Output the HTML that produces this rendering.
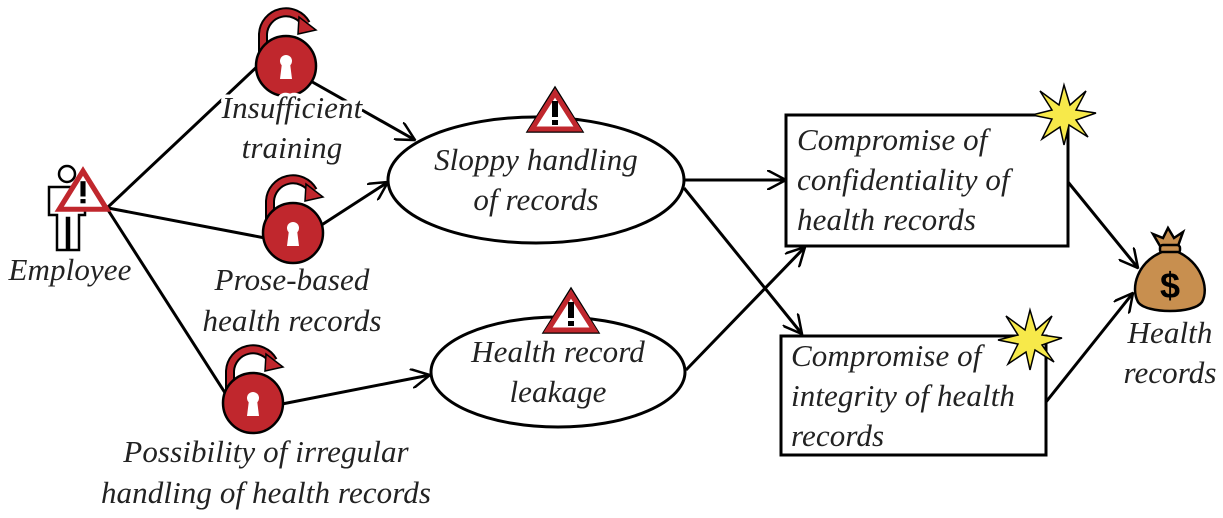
<!DOCTYPE html>
<html><head><style>
html,body{margin:0;padding:0;background:#fff;}
svg{display:block;}
text{font-family:"Liberation Serif",serif;font-style:italic;font-size:31px;letter-spacing:0.1px;fill:#222;}
.bg{stroke:#fff;stroke-width:7px;paint-order:stroke;}
</style></head><body>
<svg width="1223" height="518" viewBox="0 0 1223 518" xmlns="http://www.w3.org/2000/svg">
<defs>
<g id="lock">
  <path d="M-23,-8 L-23,-32 A23,23 0 0 1 20,-42" fill="none" stroke="#000" stroke-width="10"/>
  <path d="M-23,-8 L-23,-32 A23,23 0 0 1 20,-42" fill="none" stroke="#c0272d" stroke-width="6"/>
  <path d="M13,-49 L30,-36 L12,-32 Z" fill="#c0272d" stroke="#000" stroke-width="1.5"/>
  <circle cx="0" cy="0" r="30" fill="#c0272d" stroke="#000" stroke-width="2.5"/>
  <circle cx="0" cy="-5" r="6" fill="#fff"/>
  <path d="M-4,-3 L-6,13 L6,13 L4,-3 Z" fill="#fff"/>
</g>
<g id="warn">
  <path d="M0,0 L28,45 L-28,45 Z" fill="#fff" stroke="#000" stroke-width="1.5"/>
  <path d="M0,6 L23,42 L-23,42 Z" fill="none" stroke="#c0272d" stroke-width="5"/>
  <rect x="-3" y="14" width="6" height="16" fill="#000"/>
  <rect x="-3" y="33" width="6" height="5" fill="#000"/>
</g>
<g id="star">
  <polygon points="0,-30 6,-10 22,-24 12,-5 32,-2 12,5 24,22 5,10 0,30 -4,12 -22,24 -12,4 -32,0 -12,-5 -24,-24 -5,-10" fill="#f7e94a" stroke="#000" stroke-width="1.5"/>
</g>
<marker id="ar" viewBox="0 0 20 20" refX="19" refY="10" markerWidth="20" markerHeight="20" markerUnits="userSpaceOnUse" orient="auto">
  <path d="M0,0 L19,10 L0,20" fill="none" stroke="#000" stroke-width="2.5"/>
</marker>
</defs>

<g stroke="#000" stroke-width="3" fill="none">
  <line x1="108" y1="207" x2="262" y2="62"/>
  <line x1="300" y1="75" x2="415" y2="140" marker-end="url(#ar)"/>
  <line x1="108" y1="208" x2="265" y2="238"/>
  <line x1="320" y1="226" x2="388" y2="182" marker-end="url(#ar)"/>
  <line x1="108" y1="210" x2="236" y2="410"/>
  <line x1="282" y1="404" x2="430" y2="375" marker-end="url(#ar)"/>
  <line x1="684" y1="180" x2="786" y2="180" marker-end="url(#ar)"/>
  <line x1="684" y1="188" x2="802" y2="334" marker-end="url(#ar)"/>
  <line x1="686" y1="370" x2="805" y2="247" marker-end="url(#ar)"/>
  <line x1="1068" y1="182" x2="1138" y2="268" marker-end="url(#ar)"/>
  <line x1="1046" y1="402" x2="1133" y2="293" marker-end="url(#ar)"/>
  <ellipse cx="536" cy="180" rx="148" ry="63" fill="#fff"/>
  <ellipse cx="558" cy="372" rx="127" ry="55" fill="#fff"/>
  <rect x="786" y="115" width="282" height="131" fill="#fff"/>
  <rect x="781" y="336" width="265" height="119" fill="#fff"/>
</g>

<use href="#lock" x="286" y="66"/>
<use href="#lock" x="293" y="233"/>
<use href="#lock" x="253" y="403"/>
<use href="#warn" x="555" y="87"/>
<use href="#warn" x="571" y="288"/>
<use href="#star" x="1064" y="115"/>
<use href="#star" x="1030" y="340"/>

<!-- employee -->
<g stroke="#000" stroke-width="2.5" fill="#fff">
  <circle cx="67" cy="174" r="8"/>
  <path d="M49,187 L85,187 L85,215 L79,215 L79,250 L69,250 L69,218 L67,218 L67,250 L57,250 L57,215 L49,215 Z"/>
</g>
<g transform="translate(83,171) scale(0.85)">
  <path d="M0,0 L28,45 L-28,45 Z" fill="#fff" stroke="#c0272d" stroke-width="6"/>
  <rect x="-3" y="12" width="6" height="18" fill="#000"/>
  <rect x="-3" y="33" width="6" height="5" fill="#000"/>
</g>

<!-- money bag -->
<g stroke="#000" stroke-width="2.5">
  <path d="M1160,246 L1153,234 L1163,238 L1168,228 L1174,238 L1183,232 L1178,246 Z" fill="#c88f4f"/>
  <rect x="1160" y="245" width="20" height="8" rx="3" fill="#c88f4f"/>
  <path d="M1162,252 C1138,262 1130,287 1138,302 C1146,314 1194,314 1202,302 C1210,287 1200,262 1178,252 Z" fill="#c88f4f"/>
</g>
<text x="1170" y="298" text-anchor="middle" style="font-style:normal;font-family:'Liberation Sans',sans-serif;font-weight:bold;font-size:36px;fill:#000">$</text>

<text class="bg" x="292" y="118" text-anchor="middle">Insufficient</text>
<text class="bg" x="292" y="158" text-anchor="middle">training</text>
<text class="bg" x="70" y="280" text-anchor="middle">Employee</text>
<text class="bg" x="292" y="290" text-anchor="middle">Prose-based</text>
<text class="bg" x="292" y="331" text-anchor="middle">health records</text>
<text class="bg" x="266" y="462" text-anchor="middle">Possibility of irregular</text>
<text class="bg" x="266" y="503" text-anchor="middle">handling of health records</text>
<text x="536" y="170" text-anchor="middle">Sloppy handling</text>
<text x="536" y="210" text-anchor="middle">of records</text>
<text x="558" y="362" text-anchor="middle">Health record</text>
<text x="558" y="402" text-anchor="middle">leakage</text>
<text x="797" y="150">Compromise of</text>
<text x="797" y="190">confidentiality of</text>
<text x="797" y="230">health records</text>
<text x="791" y="366">Compromise of</text>
<text x="791" y="406">integrity of health</text>
<text x="791" y="446">records</text>
<text class="bg" x="1170" y="343" text-anchor="middle">Health</text>
<text class="bg" x="1170" y="383" text-anchor="middle">records</text>
</svg>
</body></html>
